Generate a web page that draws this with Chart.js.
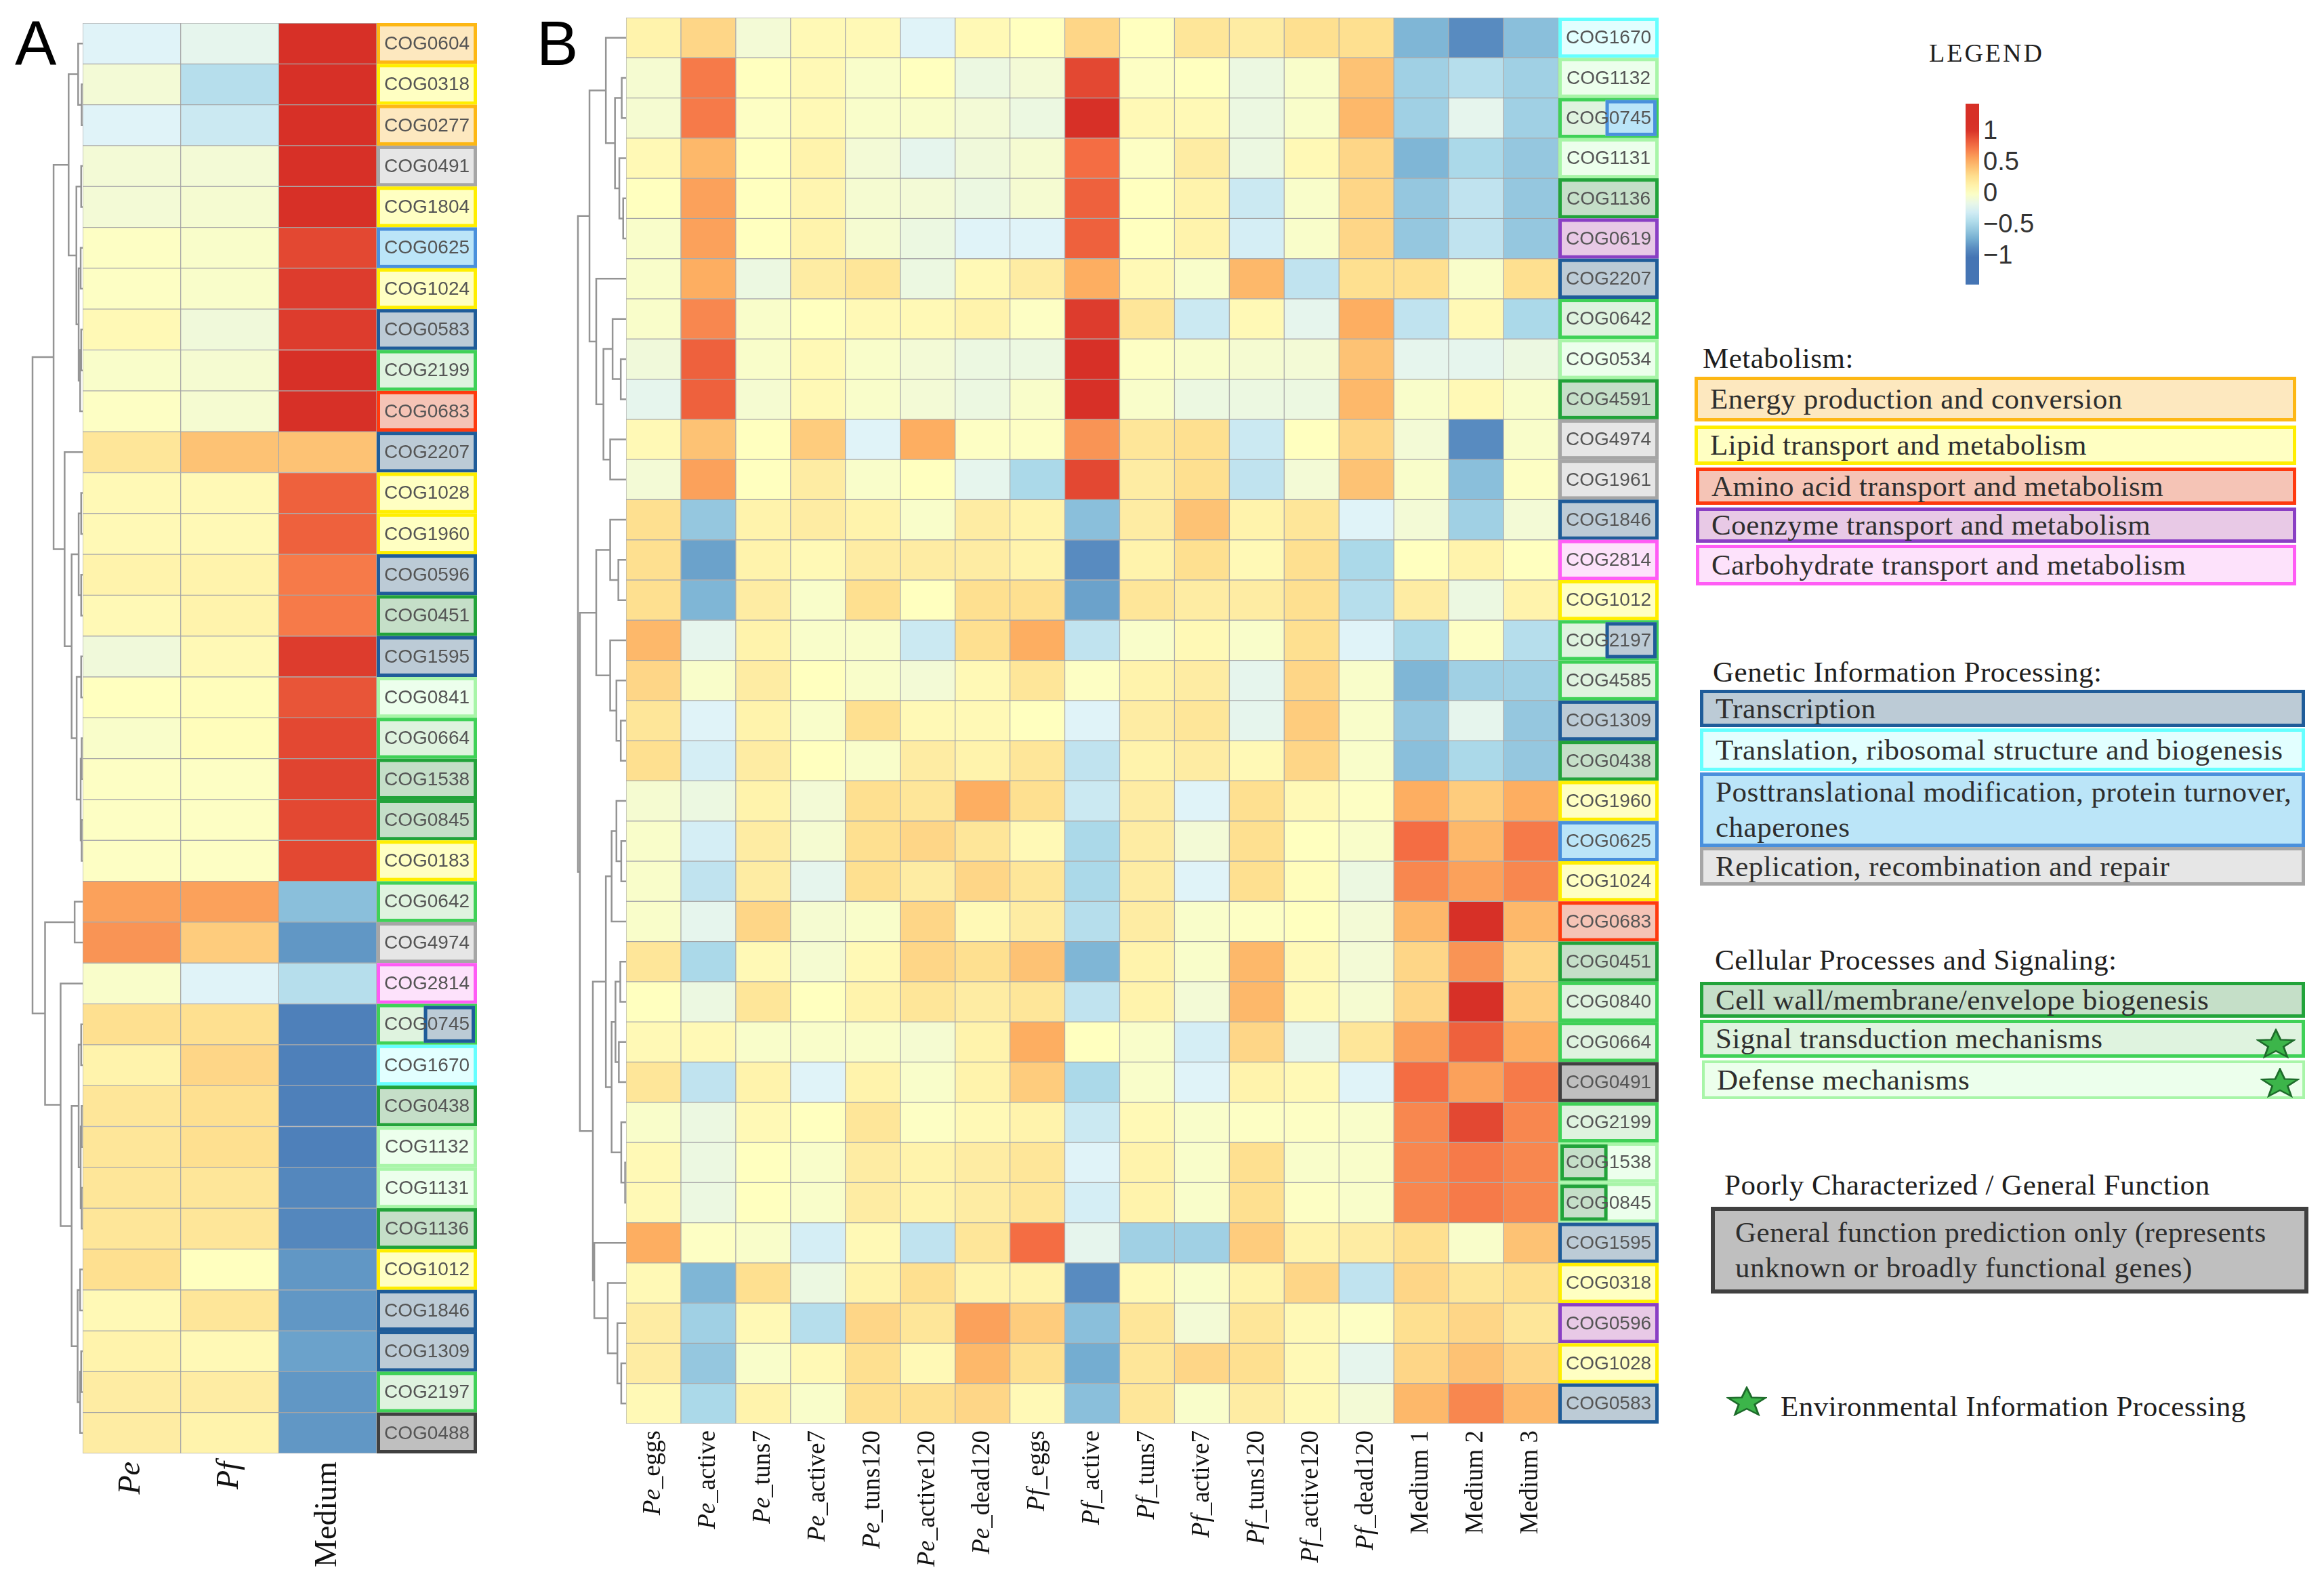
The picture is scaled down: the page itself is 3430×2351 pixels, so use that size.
<!DOCTYPE html>
<html>
<head>
<meta charset="utf-8">
<script src="https://cdn.jsdelivr.net/npm/chart.js@4.4.1/dist/chart.umd.min.js"></script>
<style>
  html, body { margin: 0; padding: 0; background: #fff; }
  #page { position: relative; width: 3430px; height: 2351px; overflow: hidden; font-family: 'Liberation Serif', 'Times New Roman', serif; }
  .abs { position: absolute; }
  .letter { font-family: 'Liberation Sans', Arial, sans-serif; font-size: 92px; line-height: 92px; color: #000; }
  .head { position: absolute; font-size: 43px; line-height: 46px; color: #1e1e1e; white-space: nowrap; letter-spacing: 0.5px; transform: translateY(-50%); }
  .cat { position: absolute; box-sizing: border-box; border-style: solid; font-size: 43px; line-height: 52px; letter-spacing: 0.5px; color: #2e2e2e; display: flex; align-items: center; white-space: nowrap; }
  .tick { position: absolute; font-family: 'Liberation Sans', Arial, sans-serif; font-size: 38px; color: #333; transform: translateY(-50%); }
</style>
</head>
<body>
<div id="page">
  <div class="abs letter" style="left:22px;top:18px">A</div>
  <div class="abs letter" style="left:792px;top:18px">B</div>

  <div class="abs" style="left:40px;top:0;width:82px;height:2351px"><canvas id="dendA"></canvas></div>
  <div class="abs" style="left:122px;top:0;width:600px;height:2351px"><canvas id="heatA"></canvas></div>
  <div class="abs" style="left:840px;top:0;width:84px;height:2351px"><canvas id="dendB"></canvas></div>
  <div class="abs" style="left:924px;top:0;width:1560px;height:2351px"><canvas id="heatB"></canvas></div>

  <div id="legend"></div>
</div>

<script>
// ---- panel A data ----
const rowsA = ['COG0604', 'COG0318', 'COG0277', 'COG0491', 'COG1804', 'COG0625', 'COG1024', 'COG0583', 'COG2199', 'COG0683',
  'COG2207', 'COG1028', 'COG1960', 'COG0596', 'COG0451', 'COG1595', 'COG0841', 'COG0664', 'COG1538', 'COG0845',
  'COG0183', 'COG0642', 'COG4974', 'COG2814', 'COG0745', 'COG1670', 'COG0438', 'COG1132', 'COG1131', 'COG1136',
  'COG1012', 'COG1846', 'COG1309', 'COG2197', 'COG0488'];
const catsA = ['energy', 'lipid', 'energy', 'replication', 'lipid', 'posttrans', 'lipid', 'transcription', 'signal', 'amino',
  'transcription', 'lipid', 'lipid', 'transcription', 'cellwall', 'transcription', 'defense', 'signal', 'cellwall', 'cellwall',
  'lipid', 'signal', 'replication', 'carbohydrate', 'signal/transcription:R', 'translation', 'cellwall', 'defense', 'defense', 'cellwall',
  'lipid', 'transcription', 'transcription', 'signal', 'general'];
const colsA = ['Pe', 'Pf', 'Medium'];
const aPe = [-0.25, -0.1, -0.25, -0.1, -0.1, -0.02, -0.02, 0.05, -0.05, -0.02, 0.2, 0.05, 0.05, 0.1, 0.05, -0.12, 0, -0.05, -0.02, -0.02,
  -0.02, 0.55, 0.6, -0.05, 0.25, 0.1, 0.2, 0.2, 0.2, 0.2, 0.25, 0.05, 0.1, 0.15, 0.15];
const aPf = [-0.2, -0.45, -0.35, -0.1, -0.08, -0.05, -0.05, -0.12, -0.08, -0.08, 0.4, 0.05, 0.05, 0.1, 0.1, 0.05, 0.02, 0.02, -0.02, -0.02,
  -0.02, 0.55, 0.35, -0.25, 0.25, 0.3, 0.25, 0.25, 0.2, 0.2, 0, 0.2, 0.05, 0.15, 0.1];
const aMedium = [1, 1, 1, 1, 1, 0.9, 0.95, 0.95, 1, 1, 0.4, 0.8, 0.8, 0.7, 0.7, 0.95, 0.85, 0.9, 0.92, 0.9,
  0.9, -0.65, -0.85, -0.45, -0.95, -0.95, -0.95, -0.95, -0.92, -0.92, -0.85, -0.85, -0.8, -0.85, -0.85];
// hclust-style merges: [left, right, height]; >=0 leaf row, -k = merge k
const treeA = [
  [1, 2, 0.02], [0, -1, 0.09], [3, 4, 0.03], [5, 6, 0.04], [7, 8, 0.03], [-5, 9, 0.05], [-4, -6, 0.08], [-3, -7, 0.125],
  [-2, -8, 0.28], [11, 12, 0.03], [13, 14, 0.03], [-10, -11, 0.08], [15, 16, 0.03], [17, 18, 0.02], [19, 20, 0.02],
  [-14, -15, 0.04], [-13, -16, 0.12], [-12, -17, 0.22], [10, -18, 0.36], [-9, -19, 0.58], [21, 22, 0.16], [24, 25, 0.03],
  [26, 27, 0.02], [28, 29, 0.02], [-23, -24, 0.04], [-22, -25, 0.08], [30, 31, 0.05], [32, 33, 0.03], [-28, 34, 0.05],
  [-27, -29, 0.1], [-26, -30, 0.22], [23, -31, 0.44], [-21, -32, 0.75], [-20, -33, 1.0]];

// ---- panel B data ----
const rowsB = ['COG1670', 'COG1132', 'COG0745', 'COG1131', 'COG1136', 'COG0619', 'COG2207', 'COG0642', 'COG0534', 'COG4591',
  'COG4974', 'COG1961', 'COG1846', 'COG2814', 'COG1012', 'COG2197', 'COG4585', 'COG1309', 'COG0438', 'COG1960',
  'COG0625', 'COG1024', 'COG0683', 'COG0451', 'COG0840', 'COG0664', 'COG0491', 'COG2199', 'COG1538', 'COG0845',
  'COG1595', 'COG0318', 'COG0596', 'COG1028', 'COG0583'];
const catsB = ['translation', 'defense', 'signal/posttrans:R', 'defense', 'cellwall', 'coenzyme', 'transcription', 'signal', 'defense', 'cellwall',
  'replication', 'replication', 'transcription', 'carbohydrate', 'lipid', 'signal/transcription:R', 'signal', 'transcription', 'cellwall', 'lipid',
  'posttrans', 'lipid', 'amino', 'cellwall', 'signal', 'signal', 'general', 'signal', 'defense/cellwall:L', 'defense/cellwall:L',
  'transcription', 'lipid', 'coenzyme', 'lipid', 'transcription'];
const colsB = ['Pe_eggs', 'Pe_active', 'Pe_tuns7', 'Pe_active7', 'Pe_tuns120', 'Pe_active120', 'Pe_dead120',
  'Pf_eggs', 'Pf_active', 'Pf_tuns7', 'Pf_active7', 'Pf_tuns120', 'Pf_active120', 'Pf_dead120',
  'Medium 1', 'Medium 2', 'Medium 3'];
// one entry per row: eggs, active, tuns7, active7, tuns120, active120, dead120
const bPe = [
  [0.1, 0.3, -0.1, 0.05, 0.05, -0.25, 0.05], [-0.08, 0.7, 0, 0.05, -0.05, 0, -0.15], [-0.08, 0.7, -0.02, 0.05, -0.05, -0.05, -0.1],
  [0.05, 0.45, 0, 0.1, -0.1, -0.2, -0.12], [0, 0.55, 0, 0.08, -0.08, -0.1, -0.15], [-0.05, 0.55, 0, 0.1, -0.08, -0.15, -0.25],
  [-0.05, 0.5, -0.15, 0.15, 0.2, -0.15, 0.05], [-0.05, 0.65, -0.05, 0, 0.05, 0.05, 0.1], [-0.12, 0.8, -0.05, 0.05, -0.05, -0.1, -0.15],
  [-0.2, 0.8, -0.08, 0.05, -0.05, -0.1, -0.15], [0.05, 0.4, 0, 0.35, -0.25, 0.5, -0.02], [-0.1, 0.55, 0, 0.15, -0.05, 0, -0.2],
  [0.25, -0.6, 0.1, 0.15, 0.1, -0.05, 0.15], [0.25, -0.8, 0.1, 0.05, 0.15, 0.15, 0.15], [0.25, -0.7, 0.15, -0.05, 0.25, 0, 0.25],
  [0.45, -0.2, 0.1, -0.05, -0.05, -0.35, 0.25], [0.3, -0.05, 0.15, 0, -0.05, -0.1, 0.05], [0.2, -0.25, 0.1, -0.05, 0.25, 0.05, 0.05],
  [0.25, -0.3, 0.15, 0, -0.05, 0.15, 0.1], [-0.08, -0.15, 0.1, -0.1, 0.25, 0.2, 0.5], [-0.05, -0.3, 0.15, -0.08, 0.25, 0.3, 0.2],
  [-0.05, -0.4, 0.15, -0.2, 0.25, 0.15, 0.3], [-0.05, -0.2, 0.3, -0.08, -0.05, 0.3, 0.05], [0.2, -0.5, 0.05, -0.08, 0.05, 0.3, 0.25],
  [0, -0.15, 0.2, 0, 0.1, 0.2, 0.15], [0.05, 0.05, -0.05, -0.05, -0.05, -0.08, 0.1], [0.2, -0.4, 0.1, -0.25, 0.1, -0.05, 0.1],
  [-0.05, -0.15, 0.05, 0, 0.2, -0.02, 0.05], [0.05, -0.15, 0, -0.05, 0.15, 0.1, 0.15], [0.05, -0.15, 0, -0.05, 0.15, 0.1, 0.15],
  [0.5, -0.02, -0.05, -0.3, 0.05, -0.4, 0.2], [0.05, -0.7, 0.25, -0.15, 0.1, 0.25, 0.1], [0.15, -0.55, 0.05, -0.45, 0.3, 0.2, 0.55],
  [0.15, -0.6, -0.05, 0.05, 0.25, 0.05, 0.45], [0.05, -0.5, 0.1, -0.05, 0.25, 0.25, 0.3]];
const bPf = [
  [0, 0.3, 0, 0.2, 0.15, 0.25, 0.25], [-0.1, 0.9, -0.02, 0, -0.15, -0.05, 0.4], [-0.15, 1.0, 0.05, 0.05, -0.15, -0.05, 0.45],
  [-0.08, 0.75, -0.02, 0.15, -0.15, 0.05, 0.3], [-0.08, 0.8, 0, 0.1, -0.35, -0.05, 0.3], [-0.25, 0.8, 0, 0.1, -0.3, -0.05, 0.3],
  [0.15, 0.5, 0.05, -0.05, 0.45, -0.4, 0.25], [-0.02, 0.95, 0.2, -0.35, 0.05, -0.2, 0.5], [-0.15, 1.05, -0.02, -0.05, -0.08, -0.1, 0.4],
  [-0.05, 1.05, -0.05, -0.15, -0.15, -0.15, 0.45], [-0.02, 0.6, 0.2, 0.25, -0.35, 0, 0.3], [-0.5, 0.9, 0.15, 0.25, -0.4, -0.1, 0.4],
  [0.1, -0.65, 0.15, 0.4, 0.1, 0.2, -0.25], [0.1, -0.9, 0.1, 0.25, 0.05, 0.25, -0.5], [0.25, -0.8, 0.2, 0.15, 0.15, 0.25, -0.45],
  [0.5, -0.4, -0.05, 0.05, -0.05, 0.25, -0.25], [0.2, -0.02, 0.1, 0.15, -0.2, 0.3, -0.05], [0, -0.25, 0.15, 0.2, -0.2, 0.35, -0.05],
  [0.2, -0.4, 0.1, 0.15, 0.05, 0.3, -0.05], [0.25, -0.35, 0.15, -0.25, 0.25, 0.05, -0.02], [0.05, -0.5, 0.15, -0.1, 0.25, 0, -0.05],
  [0.2, -0.5, 0.15, -0.25, 0.25, 0.02, -0.15], [0.15, -0.45, 0.15, -0.05, -0.02, 0, -0.1], [0.4, -0.7, 0.1, -0.05, 0.45, 0.05, -0.1],
  [0.2, -0.4, 0.1, -0.1, 0.45, 0.05, -0.08], [0.5, 0, -0.05, -0.3, 0.3, -0.2, 0.2], [0.35, -0.5, -0.05, -0.25, 0.1, 0.05, -0.25],
  [0.1, -0.35, 0.05, -0.05, -0.02, -0.02, -0.05], [0.2, -0.25, 0.1, -0.05, 0.25, -0.05, -0.05], [0.2, -0.3, 0.1, -0.05, 0.25, -0.02, -0.05],
  [0.75, -0.2, -0.55, -0.55, 0.35, 0.1, 0.15], [0.1, -0.9, 0.05, -0.05, 0.1, 0.3, -0.4], [0.35, -0.65, 0.2, -0.1, 0.2, 0.05, -0.02],
  [0.25, -0.75, 0.2, 0.3, 0.25, 0.05, -0.2], [0.05, -0.65, 0.2, -0.05, 0.15, 0.05, -0.1]];
const bMedium = [
  [-0.7, -0.9, -0.65], [-0.55, -0.45, -0.55], [-0.55, -0.2, -0.55], [-0.7, -0.5, -0.6], [-0.6, -0.4, -0.6], [-0.6, -0.4, -0.6],
  [0.25, -0.05, 0.25], [-0.4, 0.05, -0.5], [-0.2, -0.2, -0.15], [-0.05, 0.05, -0.05], [-0.1, -0.9, -0.05], [-0.05, -0.65, -0.02],
  [-0.1, -0.55, -0.1], [0, 0.1, 0], [0.15, -0.15, 0.1], [-0.5, -0.02, -0.45], [-0.7, -0.55, -0.55], [-0.6, -0.2, -0.6],
  [-0.65, -0.5, -0.6], [0.5, 0.35, 0.5], [0.75, 0.45, 0.7], [0.65, 0.55, 0.65], [0.45, 1.05, 0.45], [0.3, 0.6, 0.3],
  [0.3, 1.05, 0.35], [0.55, 0.8, 0.5], [0.75, 0.55, 0.7], [0.65, 0.9, 0.65], [0.65, 0.7, 0.65], [0.65, 0.7, 0.65],
  [0.25, -0.05, 0.4], [0.3, 0.2, 0.25], [0.25, 0.3, 0.2], [0.3, 0.4, 0.3], [0.45, 0.65, 0.45]];
const treeB = [
  [1, 2, 0.09], [4, 5, 0.06], [3, -2, 0.14], [-1, -3, 0.23], [0, -4, 0.42], [8, 9, 0.11], [7, -6, 0.28], [10, 11, 0.33],
  [-7, -8, 0.47], [6, -9, 0.62], [-5, -10, 0.76], [13, 14, 0.16], [12, -12, 0.33], [17, 18, 0.11], [16, -14, 0.2],
  [15, -15, 0.33], [-13, -16, 0.62], [20, 21, 0.1], [19, -18, 0.2], [-19, 22, 0.3], [23, 24, 0.12], [25, 26, 0.15],
  [-21, -22, 0.22], [28, 29, 0.02], [27, -24, 0.1], [-23, -25, 0.3], [-20, -26, 0.42], [33, 34, 0.1], [32, -28, 0.18],
  [31, -29, 0.38], [30, -30, 0.66], [-27, -31, 0.69], [-17, -32, 0.96], [-11, -33, 1.0]];

// colour scale ticks
const scaleTicks = [1, 0.5, 0, -0.5, -1];

// ---- styles ----
const PALETTE = [[-1, '#4575b4'], [-0.75, '#74add1'], [-0.5, '#abd9e9'], [-0.25, '#e0f3f8'], [0, '#ffffbf'],
  [0.25, '#fee090'], [0.5, '#fdae61'], [0.75, '#f46d43'], [1, '#d73027']];
const CAT_STYLE = {
  energy:        { fill: '#fde8bf', stroke: '#fdb714' },
  lipid:         { fill: '#ffffc2', stroke: '#ffee00' },
  amino:         { fill: '#f5c4b6', stroke: '#ff3a0f' },
  coenzyme:      { fill: '#e8c9e6', stroke: '#8a3fc4' },
  carbohydrate:  { fill: '#fde2fb', stroke: '#ff5cf5' },
  transcription: { fill: '#bccbd6', stroke: '#1f5c99' },
  translation:   { fill: '#e2ffff', stroke: '#66ffff' },
  posttrans:     { fill: '#bbe5f8', stroke: '#4a90dc' },
  replication:   { fill: '#e6e6e6', stroke: '#a6a6a6' },
  cellwall:      { fill: '#c5dfc8', stroke: '#22a33a' },
  signal:        { fill: '#dff3df', stroke: '#3fd157' },
  defense:       { fill: '#ecffec', stroke: '#a8f5a8' },
  general:       { fill: '#bfbfbf', stroke: '#404040' },
};

function hexToRgb(h) {
  return [parseInt(h.slice(1, 3), 16), parseInt(h.slice(3, 5), 16), parseInt(h.slice(5, 7), 16)];
}

function colorFor(v) {
  const x = Math.max(-1, Math.min(1, v));
  for (let i = 0; i < PALETTE.length - 1; i++) {
    const [v0, c0] = PALETTE[i];
    const [v1, c1] = PALETTE[i + 1];
    if (x <= v1) {
      const t = (x - v0) / (v1 - v0);
      const a = hexToRgb(c0), b = hexToRgb(c1);
      const m = a.map((q, k) => Math.round(q + (b[k] - q) * t));
      return `rgb(${m[0]},${m[1]},${m[2]})`;
    }
  }
  return PALETTE[PALETTE.length - 1][1];
}

function drawBox(ctx, x, y, w, h, st, lw) {
  ctx.fillStyle = st.fill;
  ctx.fillRect(x, y, w, h);
  ctx.strokeStyle = st.stroke;
  ctx.lineWidth = lw;
  ctx.strokeRect(x + lw / 2, y + lw / 2, w - lw, h - lw);
}

function cogLabelPlugin(names, cats, boxW) {
  return {
    id: 'cogLabels',
    afterDraw(chart) {
      const { ctx, chartArea } = chart;
      const band = chartArea.height / names.length;
      ctx.save();
      names.forEach((name, i) => {
        const cy = chart.scales.y.getPixelForValue(i);
        const top = cy - band / 2;
        const x0 = chartArea.right;
        const [pair, side] = cats[i].split(':');
        const [base, over] = pair.split('/');
        drawBox(ctx, x0, top, boxW, band, CAT_STYLE[base], 5);
        if (over) {
          const split = boxW * 0.47;
          if (side === 'R') drawBox(ctx, x0 + split, top + 3, boxW - split - 3, band - 6, CAT_STYLE[over], 5);
          else drawBox(ctx, x0 + 3, top + 3, split, band - 6, CAT_STYLE[over], 5);
        }
        ctx.fillStyle = '#555';
        ctx.font = '28px "Liberation Sans", Arial, sans-serif';
        ctx.textAlign = 'center';
        ctx.textBaseline = 'middle';
        ctx.fillText(name, x0 + boxW / 2, cy + 1);
      });
      ctx.restore();
    },
  };
}

function colLabelPlugin(cols, fontPx, gap) {
  return {
    id: 'colLabels',
    afterDraw(chart) {
      const { ctx, chartArea } = chart;
      cols.forEach((name, c) => {
        const cx = chart.scales.x.getPixelForValue(c + 0.5);
        const it = /^P[ef]/.test(name) ? name.slice(0, 2) : '';
        const rest = name.slice(it.length);
        const fIt = `italic ${fontPx}px "Liberation Serif", serif`;
        const fRe = `${fontPx}px "Liberation Serif", serif`;
        ctx.save();
        ctx.font = fIt;
        const w1 = it ? ctx.measureText(it).width : 0;
        ctx.font = fRe;
        const w2 = ctx.measureText(rest).width;
        ctx.translate(cx, chartArea.bottom + gap);
        ctx.rotate(-Math.PI / 2);
        ctx.fillStyle = '#111';
        ctx.textAlign = 'left';
        ctx.textBaseline = 'middle';
        let x = -(w1 + w2);
        if (it) { ctx.font = fIt; ctx.fillText(it, x, 0); x += w1; }
        ctx.font = fRe;
        ctx.fillText(rest, x, 0);
        ctx.restore();
      });
    },
  };
}

function makeHeatmap(id, rows, cols, matrix, cats, pad, fontPx, gap) {
  const datasets = cols.map((col, c) => ({
    label: col,
    data: rows.map(() => [c, c + 1]),
    backgroundColor: rows.map((_, r) => colorFor(matrix[r][c])),
    borderColor: 'rgba(150,150,150,0.75)',
    borderWidth: 1,
    borderSkipped: false,
    grouped: false,
    categoryPercentage: 1,
    barPercentage: 1,
  }));
  return new Chart(document.getElementById(id), {
    type: 'bar',
    data: { labels: rows, datasets },
    options: {
      indexAxis: 'y',
      responsive: true,
      maintainAspectRatio: false,
      animation: false,
      layout: { padding: pad },
      plugins: { legend: { display: false }, tooltip: { enabled: false } },
      scales: {
        x: { type: 'linear', min: 0, max: cols.length, display: false },
        y: { type: 'category', display: false },
      },
    },
    plugins: [cogLabelPlugin(rows, cats, 148), colLabelPlugin(cols, fontPx, gap)],
  });
}

function dendroSegments(merges) {
  const nodes = [];
  const pos = (ref) => (ref >= 0 ? { y: ref, h: 0 } : nodes[-ref - 1]);
  return merges.map(([a, b, h]) => {
    const A = pos(a), B = pos(b);
    nodes.push({ y: (A.y + B.y) / 2, h });
    return [{ x: A.h, y: A.y }, { x: h, y: A.y }, { x: h, y: B.y }, { x: B.h, y: B.y }];
  });
}

function makeDendrogram(id, merges, n, pad) {
  const datasets = dendroSegments(merges).map((seg) => ({
    data: seg,
    showLine: true,
    borderColor: '#949494',
    borderWidth: 2.5,
    pointRadius: 0,
    clip: 10,
  }));
  return new Chart(document.getElementById(id), {
    type: 'scatter',
    data: { datasets },
    options: {
      responsive: true,
      maintainAspectRatio: false,
      animation: false,
      layout: { padding: pad },
      plugins: { legend: { display: false }, tooltip: { enabled: false } },
      scales: {
        x: { type: 'linear', min: 0, max: 1, reverse: true, display: false },
        y: { type: 'linear', min: -0.5, max: n - 0.5, reverse: true, display: false },
      },
    },
  });
}

function buildLegend() {
  const root = document.getElementById('legend');
  const star = (w, h) => `<svg width="${w}" height="${h}" viewBox="0 0 24 23" preserveAspectRatio="none"><polygon points="12,1 14.9,8.6 23,8.9 16.7,14 18.9,21.8 12,17.3 5.1,21.8 7.3,14 1,8.9 9.1,8.6" fill="#3cb54a" stroke="#1d6b2a" stroke-width="1.2"/></svg>`;
  let html = '';
  html += `<div class="head" style="left:2847px;top:78px;font-size:38px;letter-spacing:3px">LEGEND</div>`;

  // colour bar: values from 1.42 (top) to -1.48 (bottom), 92px per unit
  const zeroY = 284, unit = 92, vTop = 1.42, vBot = -1.48;
  const stops = [];
  for (let k = 0; k <= 20; k++) {
    const v = vTop + (vBot - vTop) * k / 20;
    stops.push(`${colorFor(v)} ${(k * 5)}%`);
  }
  html += `<div class="abs" style="left:2901px;top:${zeroY - vTop * unit}px;width:20px;height:${(vTop - vBot) * unit}px;background:linear-gradient(to bottom, ${stops.join(',')})"></div>`;
  scaleTicks.forEach((t) => {
    const txt = t < 0 ? '\u2212' + Math.abs(t) : String(t);
    html += `<div class="tick" style="left:2927px;top:${zeroY - t * unit}px">${txt}</div>`;
  });

  const heads = [
    ['Metabolism:', 2513, 529],
    ['Genetic Information Processing:', 2528, 992],
    ['Cellular Processes and Signaling:', 2531, 1417],
    ['Poorly Characterized / General Function', 2545, 1749],
  ];
  heads.forEach(([t, x, y]) => { html += `<div class="head" style="left:${x}px;top:${y}px">${t}</div>`; });

  const boxes = [
    ['energy', 'Energy production and conversion', 2501, 556, 888, 66, 5],
    ['lipid', 'Lipid transport and metabolism', 2501, 628, 888, 58, 5],
    ['amino', 'Amino acid transport and metabolism', 2503, 690, 886, 55, 5],
    ['coenzyme', 'Coenzyme transport and metabolism', 2503, 749, 886, 52, 5],
    ['carbohydrate', 'Carbohydrate transport and metabolism', 2503, 804, 886, 60, 5],
    ['transcription', 'Transcription', 2509, 1018, 893, 55, 5],
    ['translation', 'Translation, ribosomal structure and biogenesis', 2509, 1075, 893, 63, 5],
    ['posttrans', 'Posttranslational modification, protein turnover,<br>chaperones', 2509, 1140, 893, 110, 5],
    ['replication', 'Replication, recombination and repair', 2509, 1250, 893, 57, 5],
    ['cellwall', 'Cell wall/membrane/envelope biogenesis', 2509, 1449, 893, 53, 5],
    ['signal', 'Signal transduction mechanisms', 2509, 1505, 893, 56, 5],
    ['defense', 'Defense mechanisms', 2512, 1565, 890, 57, 4],
    ['general', 'General function prediction only (represents<br>unknown or broadly functional genes)', 2525, 1781, 882, 128, 6],
  ];
  boxes.forEach(([cat, t, x, y, w, h, bw]) => {
    const st = CAT_STYLE[cat];
    const padL = cat === 'general' ? 30 : 18;
    html += `<div class="cat" style="left:${x}px;top:${y}px;width:${w}px;height:${h}px;border-width:${bw}px;border-color:${st.stroke};background:${st.fill};padding-left:${padL}px">${t}</div>`;
  });
  html += `<div class="abs" style="left:3330px;top:1518px">${star(58, 44)}</div>`;
  html += `<div class="abs" style="left:3336px;top:1576px">${star(58, 44)}</div>`;
  html += `<div class="abs" style="left:2548px;top:2046px">${star(60, 44)}</div>`;
  html += `<div class="head" style="left:2628px;top:2076px">Environmental Information Processing</div>`;
  root.innerHTML = html;
}

Chart.defaults.font.family = '"Liberation Serif", serif';

const matA = rowsA.map((_, r) => [aPe[r], aPf[r], aMedium[r]]);
const matB = rowsB.map((_, r) => [...bPe[r], ...bPf[r], ...bMedium[r]]);

makeDendrogram('dendA', treeA, rowsA.length, { top: 34, bottom: 206, left: 8, right: 0 });
makeHeatmap('heatA', rowsA, colsA, matA, catsA, { top: 34, bottom: 206, left: 0, right: 166 }, 46, 12);
makeDendrogram('dendB', treeB, rowsB.length, { top: 26, bottom: 250, left: 13, right: 0 });
makeHeatmap('heatB', rowsB, colsB, matB, catsB, { top: 26, bottom: 250, left: 0, right: 184 }, 37, 10);
buildLegend();
</script>
</body>
</html>
